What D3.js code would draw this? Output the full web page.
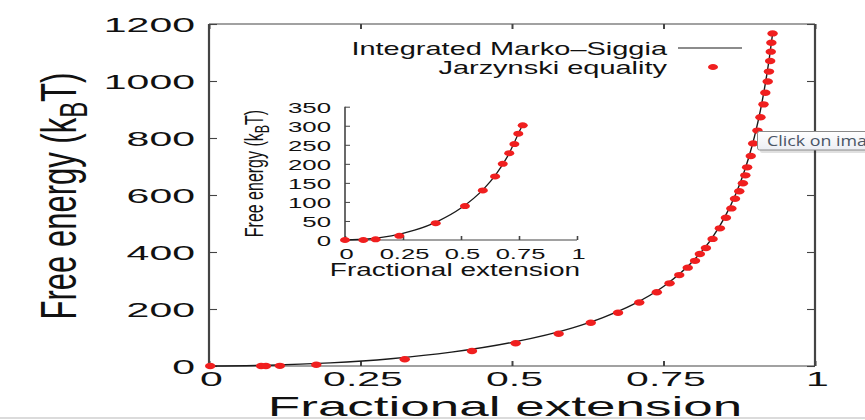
<!DOCTYPE html>
<html><head><meta charset="utf-8">
<script src="https://cdn.jsdelivr.net/npm/d3@7"></script>
<style>html,body{margin:0;padding:0;background:#fff;overflow:hidden}</style>
</head><body><svg id="c" width="865" height="420"></svg>
<script>
// ---------------- data ----------------
const xTickValues = [0, 0.25, 0.5, 0.75, 1];
const xTickLabels = ["0", "0.25", "0.5", "0.75", "1"];
const yTickValues = [0, 200, 400, 600, 800, 1000, 1200];
const yTickLabels = ["0", "200", "400", "600", "800", "1000", "1200"];
const insetYTickValues = [0, 50, 100, 150, 200, 250, 300, 350];
const insetYTickLabels = ["0", "50", "100", "150", "200", "250", "300", "350"];

const xTitle = "Fractional extension";
const yTitleMain = "Free energy (k";
const yTitleSub = "B";
const yTitleEnd = "T)";
const legendLabels = ["Integrated Marko\u2013Siggia", "Jarzynski equality"];
const tooltipText = "Click on ima";

// Integrated Marko–Siggia curve (main panel)
const msExtension = [0, 0.1, 0.2, 0.3, 0.4, 0.5, 0.6, 0.65, 0.7, 0.75, 0.8, 0.83, 0.85, 0.87, 0.88, 0.89, 0.9, 0.91, 0.915, 0.92, 0.925, 0.93];
const msEnergy    = [0, 2.6, 10.8, 25.5, 48.5, 82.8, 134, 170, 216, 279, 371, 449, 518, 607, 662, 727, 804, 898, 954, 1016, 1086, 1166];

// Jarzynski equality points (main panel)
const jeExtension = [0.002, 0.086, 0.094, 0.117, 0.177, 0.323, 0.434, 0.506, 0.577, 0.63, 0.675, 0.710, 0.739, 0.760, 0.776, 0.790, 0.802, 0.810, 0.820, 0.831, 0.843, 0.853, 0.862, 0.868, 0.875, 0.881, 0.885, 0.888, 0.894, 0.898, 0.905, 0.910, 0.915, 0.918, 0.922, 0.924, 0.926, 0.927, 0.928, 0.930];
const jeEnergy    = [0, 0, 0, 0.5, 4.5, 23.5, 52.6, 79.6, 113, 152, 187, 223, 259, 290, 319, 345, 369, 393, 414, 446, 483, 520, 553, 587, 613, 641, 669, 697, 737, 781, 826, 873, 918, 959, 998, 1033, 1070, 1103, 1134, 1167];

// Inset
const insetMsExtension = [0, 0.1, 0.2, 0.3, 0.4, 0.5, 0.6, 0.65, 0.7, 0.75, 0.768];
const insetMsEnergy    = [0, 2.6, 10.9, 25.8, 49.1, 83.8, 135.7, 171.9, 218.9, 282.7, 306];
const insetJeExtension = [0, 0.079, 0.132, 0.234, 0.391, 0.517, 0.594, 0.647, 0.680, 0.708, 0.730, 0.747, 0.766];
const insetJeEnergy    = [0, 0, 1.8, 11, 44, 89, 130, 167, 200, 228, 252, 279, 301];

// ---------------- drawing ----------------
const svg = d3.select("#c");
const FONT = "'Liberation Sans', Arial, Helvetica, sans-serif";
const AX = "#444";
const RED = "#f01f1f";

function stretchedText(parent, txt, px, py, size, sx, anchor) {
  return parent.append("text")
    .attr("transform", `translate(${px},${py}) scale(${sx},1)`)
    .attr("text-anchor", anchor).attr("font-size", size)
    .attr("font-family", FONT).attr("fill", "#111").text(txt);
}

function styleAxis(g, tickWidth) {
  g.select(".domain").remove();
  g.selectAll(".tick line").attr("stroke", AX).attr("stroke-width", tickWidth);
  g.attr("font-family", FONT);
}

// main scales
const x = d3.scaleLinear().domain([0, 1]).range([209, 815]);
const y = d3.scaleLinear().domain([0, 1200]).range([366, 24]);

// axes (inward ticks, mirrored)
const gL = svg.append("g").attr("transform", `translate(${x(0)},0)`)
  .call(d3.axisLeft(y).tickValues(yTickValues).tickSizeInner(-8).tickSizeOuter(0)
    .tickFormat((d, i) => yTickLabels[i]));
styleAxis(gL, 1.1);
gL.selectAll(".tick text").attr("x", null).attr("dy", null)
  .attr("transform", "translate(-14,7) scale(2,1)").attr("text-anchor", "end")
  .attr("font-size", 20.5).attr("fill", "#111");

const gR = svg.append("g").attr("transform", `translate(${x(1)},0)`)
  .call(d3.axisRight(y).tickValues(yTickValues).tickSizeInner(-8).tickSizeOuter(0).tickFormat(""));
styleAxis(gR, 1.1);

const gB = svg.append("g").attr("transform", `translate(0,${y(0)})`)
  .call(d3.axisBottom(x).tickValues(xTickValues).tickSizeInner(-5).tickSizeOuter(0)
    .tickFormat((d, i) => xTickLabels[i]));
styleAxis(gB, 2);
gB.selectAll(".tick text").attr("y", null).attr("dy", null)
  .attr("transform", "translate(2,19.5) scale(2.05,1)").attr("text-anchor", "middle")
  .attr("font-size", 20).attr("fill", "#111");

const gT = svg.append("g").attr("transform", `translate(0,${y(1200)})`)
  .call(d3.axisTop(x).tickValues(xTickValues).tickSizeInner(-5).tickSizeOuter(0).tickFormat(""));
styleAxis(gT, 2);

// frame
const frame = svg.append("g").attr("stroke", AX).attr("fill", "none");
frame.append("line").attr("x1", x(0)).attr("x2", x(0)).attr("y1", y(1200)).attr("y2", y(0)).attr("stroke-width", 2.2);
frame.append("line").attr("x1", x(1)).attr("x2", x(1)).attr("y1", y(1200)).attr("y2", y(0)).attr("stroke-width", 2.2);
frame.append("line").attr("x1", x(0)).attr("x2", x(1)).attr("y1", y(1200)).attr("y2", y(1200)).attr("stroke-width", 1.2);
frame.append("line").attr("x1", x(0)).attr("x2", x(1)).attr("y1", y(0)).attr("y2", y(0)).attr("stroke-width", 1.2);

// titles
stretchedText(svg, xTitle, 505, 415.5, 28.5, 1.86, "middle");
const yt = svg.append("text")
  .attr("transform", "translate(76,196) scale(1.6,1) rotate(-90)")
  .attr("text-anchor", "middle").attr("font-size", 31).attr("font-family", FONT).attr("fill", "#111");
yt.append("tspan").text(yTitleMain);
yt.append("tspan").attr("font-size", 24).attr("dy", 7).text(yTitleSub);
yt.append("tspan").attr("font-size", 31).attr("dy", -7).text(yTitleEnd);

// curve
const msData = msExtension.map((v, i) => [v, msEnergy[i]]);
svg.append("path").datum(msData)
  .attr("d", d3.line().x(d => x(d[0])).y(d => y(d[1])).curve(d3.curveMonotoneX))
  .attr("fill", "none").attr("stroke", "#1a1a1a").attr("stroke-width", 1.4);

// points
const jeData = jeExtension.map((v, i) => [v, jeEnergy[i]]);
svg.append("g").selectAll("ellipse").data(jeData).join("ellipse")
  .attr("cx", d => x(d[0])).attr("cy", d => y(d[1]))
  .attr("rx", 5.2).attr("ry", 3.2).attr("fill", RED);

// legend
stretchedText(svg, legendLabels[0], 667, 54.5, 18, 1.61, "end");
stretchedText(svg, legendLabels[1], 667, 73.5, 18, 1.61, "end");
svg.append("line").attr("x1", 678).attr("x2", 742).attr("y1", 48).attr("y2", 48)
  .attr("stroke", "#1a1a1a").attr("stroke-width", 1.2);
svg.append("ellipse").attr("cx", 713).attr("cy", 67).attr("rx", 5).attr("ry", 3).attr("fill", RED);

// ---------------- inset ----------------
const ix = d3.scaleLinear().domain([0, 1]).range([345, 577]);
const iy = d3.scaleLinear().domain([0, 350]).range([240, 106.7]);

const iL = svg.append("g").attr("transform", `translate(${ix(0)},0)`)
  .call(d3.axisLeft(iy).tickValues(insetYTickValues).tickSizeInner(-5).tickSizeOuter(0)
    .tickFormat((d, i) => insetYTickLabels[i]));
styleAxis(iL, 1);
iL.selectAll(".tick text").attr("x", null).attr("dy", null)
  .attr("transform", "translate(-14,5.4) scale(1.72,1)").attr("text-anchor", "end")
  .attr("font-size", 15).attr("fill", "#111");

const iB = svg.append("g").attr("transform", `translate(0,${iy(0)})`)
  .call(d3.axisBottom(ix).tickValues(xTickValues).tickSizeInner(-4).tickSizeOuter(0)
    .tickFormat((d, i) => xTickLabels[i]));
styleAxis(iB, 1.6);
iB.selectAll(".tick text").attr("y", null).attr("dy", null)
  .attr("transform", "translate(1,18.5) scale(1.7,1)").attr("text-anchor", "middle")
  .attr("font-size", 15).attr("fill", "#111");

svg.append("line").attr("x1", ix(0)).attr("x2", ix(0)).attr("y1", iy(350)).attr("y2", iy(0))
  .attr("stroke", AX).attr("stroke-width", 1.6);
svg.append("line").attr("x1", ix(0)).attr("x2", ix(1)).attr("y1", iy(0)).attr("y2", iy(0))
  .attr("stroke", AX).attr("stroke-width", 1.1);

stretchedText(svg, xTitle, 455, 276, 17.5, 1.6, "middle");
const iyt = svg.append("text")
  .attr("transform", "translate(263,173.5) scale(1.65,1) rotate(-90)")
  .attr("text-anchor", "middle").attr("font-size", 16).attr("font-family", FONT).attr("fill", "#111");
iyt.append("tspan").text(yTitleMain);
iyt.append("tspan").attr("font-size", 12.5).attr("dy", 3.5).text(yTitleSub);
iyt.append("tspan").attr("font-size", 16).attr("dy", -3.5).text(yTitleEnd);

const imsData = insetMsExtension.map((v, i) => [v, insetMsEnergy[i]]);
svg.append("path").datum(imsData)
  .attr("d", d3.line().x(d => ix(d[0])).y(d => iy(d[1])).curve(d3.curveMonotoneX))
  .attr("fill", "none").attr("stroke", "#1a1a1a").attr("stroke-width", 1.3);
const ijeData = insetJeExtension.map((v, i) => [v, insetJeEnergy[i]]);
svg.append("g").selectAll("ellipse").data(ijeData).join("ellipse")
  .attr("cx", d => ix(d[0])).attr("cy", d => iy(d[1]))
  .attr("rx", 5).attr("ry", 3).attr("fill", RED);

// ---------------- tooltip overlay ----------------
const defs = svg.append("defs");
const grad = defs.append("linearGradient").attr("id", "tipg").attr("x1", 0).attr("x2", 0).attr("y1", 0).attr("y2", 1);
grad.append("stop").attr("offset", "0%").attr("stop-color", "#ffffff");
grad.append("stop").attr("offset", "100%").attr("stop-color", "#eceef4");
svg.append("rect").attr("x", 760).attr("y", 134).attr("width", 120).attr("height", 19)
  .attr("rx", 2).attr("fill", "rgba(0,0,0,0.12)");
svg.append("rect").attr("x", 757.5).attr("y", 131.5).attr("width", 120).attr("height", 18.5)
  .attr("rx", 2).attr("fill", "url(#tipg)").attr("stroke", "#8a8a8a").attr("stroke-width", 1);
svg.append("text").attr("x", 767).attr("y", 145.5).attr("font-size", 14.5)
  .attr("font-family", "'Open Sans', 'Noto Sans', sans-serif").attr("fill", "#4a5566")
  .attr("textLength", 100).attr("lengthAdjust", "spacingAndGlyphs").text(tooltipText);

// bottom grey page line
svg.append("line").attr("x1", 0).attr("x2", 865).attr("y1", 418).attr("y2", 418)
  .attr("stroke", "#cfcfcf").attr("stroke-width", 1.5);
</script></body></html>
